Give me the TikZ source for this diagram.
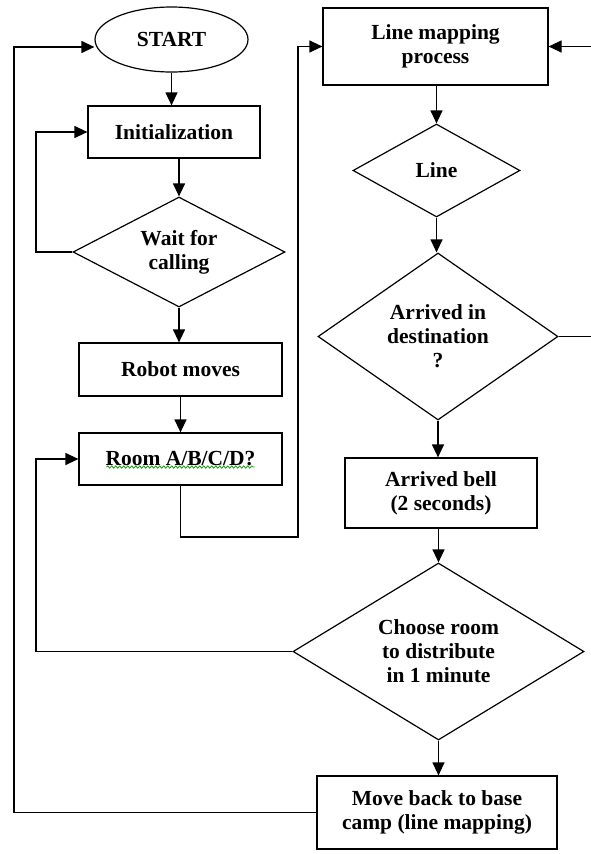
\documentclass[tikz,border=0pt]{standalone}
\usepackage{fontspec}
\setmainfont{Liberation Serif}
\usetikzlibrary{shapes.geometric,arrows.meta,decorations.pathmorphing,calc}
\begin{document}
\begin{tikzpicture}[x=1pt,y=-1pt,
  every node/.style={font=\bfseries\fontsize{21.5}{24}\selectfont, align=center, draw, line width=1.2pt, inner sep=0pt},
  box/.style={rectangle},
  dia/.style={diamond},
  arr/.style={line width=1.2pt, -{Triangle[length=13pt,width=12pt]}}]
\useasboundingbox (0,0) rectangle (591,854);
\fill[white] (0,0) rectangle (591,854);
% nodes
\node[ellipse, minimum width=153pt, minimum height=65pt] (start) at (171.5,39.5) {START};
\node[box, minimum width=172pt, minimum height=52pt] (init) at (174,132) {Initialization};
\node[dia, shape aspect=1.93, minimum width=212pt, minimum height=110pt] (wait) at (179,252) {Wait for\\calling};
\node[box, minimum width=203pt, minimum height=53pt] (robot) at (180.5,369.5) {Robot moves};
\node[box, minimum width=203pt, minimum height=52pt] (room) at (180.5,459) {Room A/B/C/D?};
\node[box, minimum width=225pt, minimum height=77pt] (lmp) at (435.5,46.5) {Line mapping\\process};
\node[dia, shape aspect=1.8, minimum width=167pt, minimum height=93pt] (line) at (436.5,170.5) {Line};
\node[dia, shape aspect=1.44, minimum width=240pt, minimum height=167pt] (dest) at (438,336.5) {Arrived in\\destination\\?};
\node[box, minimum width=192pt, minimum height=70pt] (bell) at (441,493) {Arrived bell\\(2 seconds)};
\node[dia, shape aspect=1.64, minimum width=291pt, minimum height=177pt] (choose) at (438.5,651.5) {Choose room\\to distribute\\in 1 minute};
\node[box, minimum width=240pt, minimum height=73pt] (back) at (437,812.5) {Move back to base\\camp (line mapping)};
% spell-check squiggle
\draw[green!60!black, line width=0.7pt, decorate, decoration={snake, amplitude=1.2pt, segment length=4pt}]
  ([shift={(-74,8)}]room.center) -- ([shift={(74,8)}]room.center);
% helper coordinates
\coordinate (l1) at (36,252);
\coordinate (l2) at (36,651.5);
\coordinate (l3) at (14,812.5);
\coordinate (l4) at (298,537);
\coordinate (r1) at (600,336.5);
\coordinate (r2) at (600,46.5);
% connectors
\draw[arr] (start.south) -- (start.south |- init.north);
\draw[arr] (wait.north |- init.south) -- (wait.north);
\draw[arr] (wait.south) -- (wait.south |- robot.north);
\draw[arr] (robot.south) -- (room.north);
\draw[arr] (wait.west) -- (l1) |- (init.west);
\draw[arr] (choose.west) -- (l2) |- (room.west);
\draw[arr] (back.west) -- (l3) |- ([yshift=-7.5pt]start.west);
\draw[arr] (room.south) |- (l4) |- (lmp.west);
\draw[arr] (lmp.south -| line.north) -- (line.north);
\draw[arr] (line.south) -- (line.south |- dest.north);
\draw[arr] (dest.south) -- (dest.south |- bell.north);
\draw[arr] (bell.south -| choose.north) -- (choose.north);
\draw[arr] (choose.south) -- (choose.south |- back.north);
\draw[arr] (dest.east) -- (r1) -- (r2) -- (lmp.east);
\end{tikzpicture}
\end{document}
